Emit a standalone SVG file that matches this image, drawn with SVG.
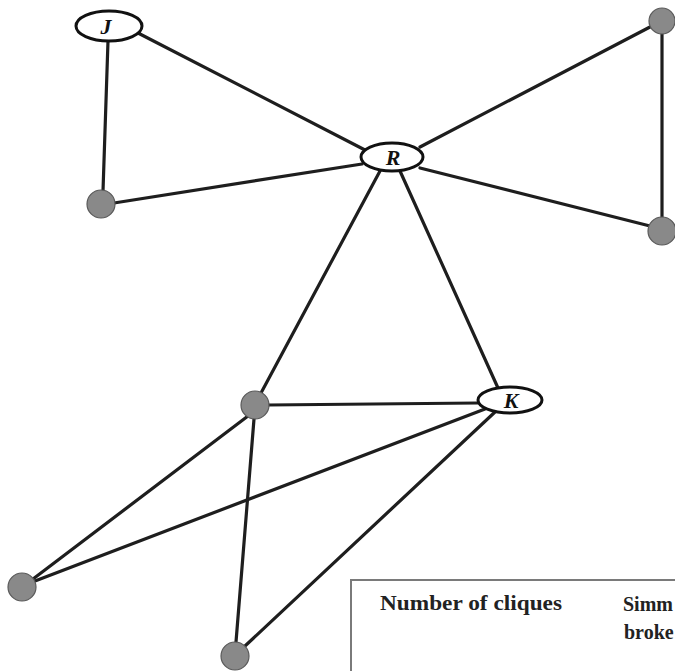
<svg xmlns="http://www.w3.org/2000/svg" width="675" height="671" viewBox="0 0 675 671">
<style>
.e{stroke:#1e1e1e;stroke-width:3.2;fill:none;stroke-linecap:round}
.g{fill:#898989;stroke:#5a5a5a;stroke-width:1.2}
.o{fill:#fff;stroke:#111;stroke-width:3}
.l{font-family:"Liberation Serif","Times New Roman",serif;font-style:italic;font-weight:bold;font-size:22px;fill:#111;text-anchor:middle}
.t{font-family:"Liberation Serif","Times New Roman",serif;font-weight:bold;font-size:20px;fill:#222}
</style>
<rect width="675" height="671" fill="#fff"/>
<g id="connectors">
<line class="e" x1="138" y1="33" x2="365" y2="150"/>
<line class="e" x1="108" y1="41" x2="103" y2="191"/>
<line class="e" x1="114" y1="203" x2="362" y2="164"/>
<line class="e" x1="420" y1="147" x2="650" y2="27"/>
<line class="e" x1="420" y1="168" x2="650" y2="226"/>
<line class="e" x1="662" y1="34" x2="662" y2="217"/>
<line class="e" x1="380" y1="171" x2="261" y2="393"/>
<line class="e" x1="400" y1="171" x2="498" y2="388"/>
<line class="e" x1="268" y1="405" x2="478" y2="403"/>
<line class="e" x1="248" y1="416" x2="33" y2="579"/>
<line class="e" x1="254" y1="419" x2="236" y2="642"/>
<line class="e" x1="485" y1="409" x2="35" y2="581"/>
<line class="e" x1="495" y1="412" x2="245" y2="646"/>
</g>
<g id="node-J"><ellipse class="o" cx="109" cy="26" rx="33" ry="15"/><text class="l" x="106" y="34">J</text></g>
<g id="node-R"><ellipse class="o" cx="392" cy="157" rx="31" ry="14"/><text class="l" x="393" y="165">R</text></g>
<g id="node-K"><ellipse class="o" cx="510" cy="400" rx="32" ry="13"/><text class="l" x="511" y="408">K</text></g>
<g id="node-tr"><circle class="g" cx="662" cy="21" r="13"/></g>
<g id="node-br"><circle class="g" cx="662" cy="231" r="14"/></g>
<g id="node-l"><circle class="g" cx="101" cy="204" r="14"/></g>
<g id="node-m"><circle class="g" cx="255" cy="405" r="14"/></g>
<g id="node-bl"><circle class="g" cx="22" cy="587" r="14"/></g>
<g id="node-b"><circle class="g" cx="235" cy="656" r="14"/></g>
<g id="table">
<path d="M351 671 V580 H680" fill="none" stroke="#7a7a7a" stroke-width="2"/>
<text class="t" x="380" y="610" textLength="182" lengthAdjust="spacingAndGlyphs">Number of cliques</text>
<text class="t" x="623" y="611">Simm</text>
<text class="t" x="624" y="639">broke</text>
</g>
</svg>
